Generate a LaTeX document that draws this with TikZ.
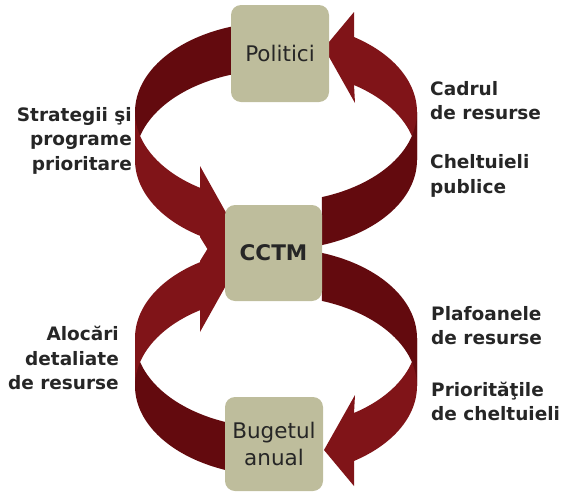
\documentclass[tikz,border=0pt]{standalone}
\usepackage{fontspec}
\setmainfont{DejaVu Sans}
\definecolor{darkred}{RGB}{99,10,14}
\definecolor{lightred}{RGB}{128,20,24}
\definecolor{boxfill}{RGB}{190,189,156}
\definecolor{txt}{RGB}{38,38,38}
\newcommand\myloop{%
  % back left (dark tail)
  \fill[darkred] plot[domain=251.6:180,samples=40,variable=\t] ({276+141*cos(\t)},{112+90*sin(\t)})
    -- plot[domain=180:251.6,samples=40,variable=\t] ({276+141*cos(\t)},{160+90*sin(\t)}) -- cycle;
  % back right (light head into top box)
  \fill[lightred] plot[domain=360:303.6,samples=40,variable=\t] ({276+141*cos(\t)},{112+90*sin(\t)})
    -- (354,12) -- (324,48) -- (355,103)
    -- plot[domain=303.6:360,samples=40,variable=\t] ({276+141*cos(\t)},{160+90*sin(\t)}) -- cycle;
  % front right (dark tail)
  \fill[darkred] plot[domain=71:0,samples=40,variable=\t] ({276+141*cos(\t)},{112+90*sin(\t)})
    -- plot[domain=0:71,samples=40,variable=\t] ({276+141*cos(\t)},{160+90*sin(\t)}) -- cycle;
  % front left (light head into middle box)
  \fill[lightred] plot[domain=180:122.6,samples=40,variable=\t] ({276+141*cos(\t)},{112+90*sin(\t)})
    -- (200,166) -- (238,234) -- (238,290) -- (234,292) -- (200,237)
    -- plot[domain=122.6:180,samples=40,variable=\t] ({276+141*cos(\t)},{160+90*sin(\t)}) -- cycle;
}
\begin{document}
\begin{tikzpicture}[x=1pt,y=-1pt,
  box/.style={rectangle, rounded corners=10pt, fill=boxfill, text=txt, inner sep=0pt,
    font=\fontsize{21.5}{27.5}\selectfont, align=center},
  lbl/.style={text=txt, inner sep=0pt, font=\bfseries\fontsize{18.5}{24.5}\selectfont}]
\useasboundingbox (0,0) rectangle (563,493);
\myloop
\begin{scope}[shift={(0,498)},yscale=-1]
\myloop
\end{scope}
\node[box, minimum width=98pt, minimum height=97pt] (pol) at (280,53.5) {Politici};
\node[box, minimum width=97pt, minimum height=96pt, font=\bfseries\fontsize{21.5}{27.5}\selectfont] (cctm) at (273.5,253) {CCTM};
\node[box, minimum width=98pt, minimum height=94pt] (bug) at (274,444) {Bugetul\\anual};
\node[lbl, anchor=north east, align=right] (strat) at (132,107) {Strategii şi\\programe\\prioritare};
\node[lbl, anchor=north west, align=left] (cadrul) at (430,81) {Cadrul\\de resurse\\[24.5pt]Cheltuieli\\publice};
\node[lbl, anchor=north west, align=left] (plaf) at (431,306) {Plafoanele\\de resurse\\[27pt]Priorităţile\\de cheltuieli};
\node[lbl, anchor=north east, align=right] (aloc) at (119,326) {Alocări\\detaliate\\de resurse};
\end{tikzpicture}
\end{document}
